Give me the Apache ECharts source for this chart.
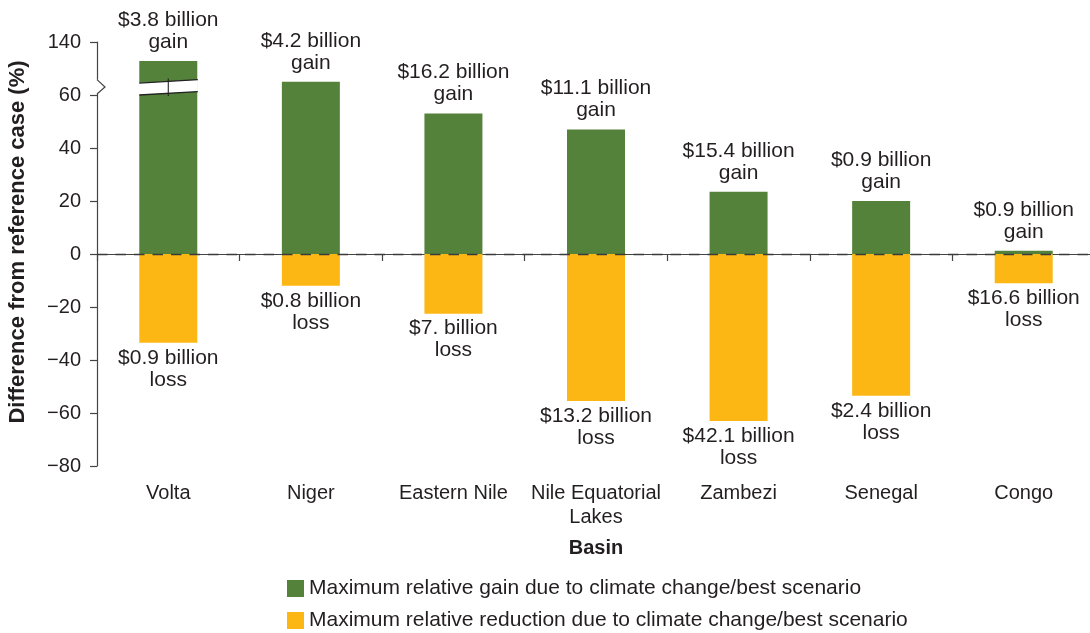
<!DOCTYPE html>
<html>
<head>
<meta charset="utf-8">
<script src="https://cdn.jsdelivr.net/npm/echarts@6/dist/echarts.min.js"></script>
<style>
html,body{margin:0;padding:0;background:#fff;}
#chart{width:1090px;height:633px;}
</style>
</head>
<body>
<div id="chart"></div>
<script>
// ---- data ----
const categories = ['Volta', 'Niger', 'Eastern Nile', 'Nile Equatorial\nLakes', 'Zambezi', 'Senegal', 'Congo'];
// Volta's gain bar is drawn on a broken axis (top of the axis reads 140); value here is its drawn height
const gainValues = [72.8, 65, 53, 47, 23.5, 20, 1.2];
const lossValues = [-33.5, -12, -22.5, -55.5, -63, -53.5, -11];
const gainLabels = ['$3.8 billion\ngain', '$4.2 billion\ngain', '$16.2 billion\ngain', '$11.1 billion\ngain', '$15.4 billion\ngain', '$0.9 billion\ngain', '$0.9 billion\ngain'];
const lossLabels = ['$0.9 billion\nloss', '$0.8 billion\nloss', '$7. billion\nloss', '$13.2 billion\nloss', '$42.1 billion\nloss', '$2.4 billion\nloss', '$16.6 billion\nloss'];
// tick labels: the top tick (drawn at 80) reads 140 because of the axis break
const yTickDrawn = [-80, -60, -40, -20, 0, 20, 40, 60, 80];
const yTickText = ['\u221280', '\u221260', '\u221240', '\u221220', '0', '20', '40', '60', '140'];
const gainName = 'Maximum relative gain due to climate change/best scenario';
const lossName = 'Maximum relative reduction due to climate change/best scenario';

const GREEN = '#54823A';
const YELLOW = '#FCB715';
const TEXT = '#231F20';
const AXIS = '#444444';
const FONT = '"Liberation Sans", Arial, Helvetica, sans-serif';
const BAR_WIDTH = 58;

const chart = echarts.init(document.getElementById('chart'), null, {renderer: 'canvas'});

const legendBase = {
  orient: 'horizontal',
  left: 282,
  icon: 'rect',
  itemWidth: 17, itemHeight: 17,
  textStyle: {fontSize: 21, color: TEXT, fontFamily: FONT},
  selectedMode: false
};

const option = {
  backgroundColor: '#ffffff',
  animation: false,
  textStyle: {fontFamily: FONT, color: TEXT},
  grid: {left: 97, top: 42, width: 998, height: 424, outerBoundsMode: 'none', containLabel: false},
  legend: [
    Object.assign({}, legendBase, {data: [gainName], top: 573}),
    Object.assign({}, legendBase, {data: [lossName], top: 605})
  ],
  xAxis: {
    type: 'category',
    data: categories,
    boundaryGap: true,
    name: 'Basin',
    nameLocation: 'middle',
    nameGap: 72,
    nameTextStyle: {fontSize: 20, fontWeight: 'bold', color: TEXT, fontFamily: FONT},
    axisLine: {show: true, lineStyle: {color: AXIS, width: 1.2}},
    axisTick: {show: true, length: 7, alignWithLabel: false, lineStyle: {color: AXIS, width: 1.2}},
    axisLabel: {fontSize: 20, color: TEXT, margin: 15, lineHeight: 24, interval: 0, fontFamily: FONT},
    splitLine: {show: false}
  },
  yAxis: {
    type: 'value',
    min: -80, max: 80, interval: 20,
    name: 'Difference from reference case (%)',
    nameLocation: 'middle',
    nameGap: 68,
    nameTextStyle: {fontSize: 22, fontWeight: 'bold', color: TEXT, fontFamily: FONT, padding: [0, 0, 0, 24]},
    axisLine: {show: true, lineStyle: {color: AXIS, width: 1.2}},
    axisTick: {show: true, length: 7, inside: false, lineStyle: {color: AXIS, width: 1.2}},
    axisLabel: {
      fontSize: 20, color: TEXT, margin: 16, fontFamily: FONT,
      formatter: function (v) {
        const i = yTickDrawn.indexOf(v);
        return i >= 0 ? yTickText[i] : '';
      }
    },
    splitLine: {show: false}
  },
  series: [
    {
      name: gainName,
      type: 'bar',
      stack: 'total',
      barWidth: BAR_WIDTH,
      itemStyle: {color: GREEN},
      data: gainValues.map(function (v, i) {
        return {value: v, label: {formatter: gainLabels[i]}};
      }),
      label: {show: true, position: 'top', distance: 8, fontSize: 21, lineHeight: 22, color: TEXT, fontFamily: FONT, align: 'center'}
    },
    {
      name: lossName,
      type: 'bar',
      stack: 'total',
      barWidth: BAR_WIDTH,
      itemStyle: {color: YELLOW},
      z: 3,
      data: lossValues.map(function (v, i) {
        return {value: v, label: {formatter: lossLabels[i]}};
      }),
      label: {show: true, position: 'bottom', distance: 4, fontSize: 21, lineHeight: 22, color: TEXT, fontFamily: FONT, align: 'center'},
      markLine: {
        silent: true,
        symbol: ['none', 'none'],
        label: {show: false},
        lineStyle: {type: [10.5, 8], color: '#3a3a3a', width: 1.4},
        data: [{yAxis: 0}],
        z: 10
      }
    },
    {
      // broken-bar decoration on Volta and zig-zag on the y axis
      type: 'custom',
      silent: true,
      z: 5,
      data: [[0, 0]],
      renderItem: function (params, api) {
        const cx = api.coord([0, 0])[0];
        const half = BAR_WIDTH / 2;
        const xl = cx - half, xr = cx + half + 0.5;
        const yUL = api.coord([0, 64.5])[1], yUR = api.coord([0, 65.8])[1];
        const yLL = api.coord([0, 60.0])[1], yLR = api.coord([0, 61.3])[1];
        const axisX = params.coordSys.x;
        const zTop = api.coord([0, 65.8])[1], zTip = api.coord([0, 63.0])[1], zBot = api.coord([0, 60.4])[1];
        const vTop = api.coord([0, 66.2])[1], vBot = api.coord([0, 59.6])[1];
        return {
          type: 'group',
          children: [
            {type: 'polygon', shape: {points: [[xl - 1, yUL], [xr, yUR], [xr, yLR], [xl - 1, yLL]]}, style: {fill: '#fff'}},
            {type: 'line', shape: {x1: xl, y1: yUL, x2: xr, y2: yUR}, style: {stroke: '#222', lineWidth: 1.3}},
            {type: 'line', shape: {x1: xl, y1: yLL, x2: xr, y2: yLR}, style: {stroke: '#222', lineWidth: 1.3}},
            {type: 'line', shape: {x1: cx, y1: vTop, x2: cx, y2: vBot}, style: {stroke: '#222', lineWidth: 1.1}},
            {type: 'rect', shape: {x: axisX - 2, y: zTop, width: 4, height: zBot - zTop}, style: {fill: '#fff'}},
            {type: 'polyline', shape: {points: [[axisX, zTop], [axisX + 8, zTip], [axisX, zBot]]}, style: {stroke: AXIS, lineWidth: 1.2, fill: 'none'}}
          ]
        };
      }
    }
  ]
};
chart.setOption(option);
</script>
</body>
</html>
